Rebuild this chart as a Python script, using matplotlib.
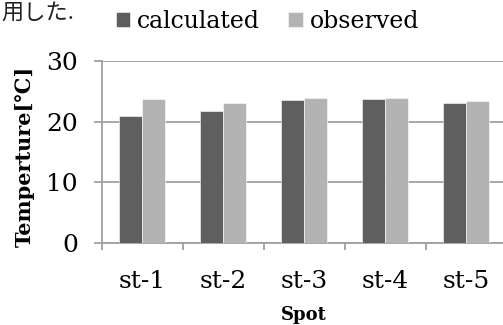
import matplotlib
matplotlib.use("Agg")
import matplotlib.pyplot as plt
import numpy as np

spots = ["st-1", "st-2", "st-3", "st-4", "st-5"]
calculated = [21.0, 21.7, 23.5, 23.7, 23.0]
observed = [23.8, 23.1, 23.9, 23.9, 23.4]
series_names = ["calculated", "observed"]
yticks = [0, 10, 20, 30]

serif = ["DejaVu Serif", "DejaVu Sans"]
plt.rcParams["font.family"] = serif
dark = "#5f5f5f"
light = "#b3b3b3"
gridc = "#a0a0a0"

fig = plt.figure(figsize=(5.03, 3.25), dpi=100)
ax = fig.add_axes([101.7 / 503, 82.3 / 325, 405 / 503, 181.7 / 325])

x = np.arange(len(spots))
w = 0.284
ax.bar(x - w / 2, calculated, w, color=dark, edgecolor="#ffffff", linewidth=0.4, label=series_names[0], zorder=3)
ax.bar(x + w / 2, observed, w, color=light, edgecolor="#ffffff", linewidth=0.4, label=series_names[1], zorder=3)

ax.set_xlim(-0.5, len(spots) - 0.5)
ax.set_ylim(0, 30)
ax.set_yticks(yticks)
ax.set_yticklabels([str(t) for t in yticks], family=serif, fontsize=18)
ax.yaxis.grid(True, color=gridc, linewidth=1.3, zorder=0)
ax.set_axisbelow(True)

ax.set_xticks(x)
ax.set_xticklabels(spots, family=serif, fontsize=18)
ax.set_xticks(np.arange(-0.5, len(spots), 1.0), minor=True)
ax.tick_params(axis="x", which="major", length=0, pad=20)
ax.tick_params(axis="x", which="minor", length=5, width=1.3, color=gridc, direction="out")
ax.tick_params(axis="y", length=6, width=1.3, color=gridc, direction="out", pad=11)

for s in ["top", "right"]:
    ax.spines[s].set_visible(False)
for s in ["left", "bottom"]:
    ax.spines[s].set_color(gridc)
    ax.spines[s].set_linewidth(1.3)

ax.set_ylabel("Temperture[℃]", family=serif, fontsize=15, fontweight="bold", va="center")
ax.yaxis.set_label_coords(-0.189, 0.474)
ax.set_xlabel("Spot", family=serif, fontsize=13, fontweight="bold", va="top")
ax.xaxis.set_label_coords(0.4995, -0.348)

leg = fig.legend(loc="center", bbox_to_anchor=(267.5 / 503, 1 - 21 / 325), ncol=2, frameon=False,
                 prop={"size": 17}, handlelength=0.6, handleheight=0.6,
                 handletextpad=0.3, columnspacing=1.2, borderpad=0, borderaxespad=0)
for t in leg.get_texts():
    t.set_family(serif)

fig.text(1 / 503, 1 - 12 / 325, "用した.", family=["Noto Sans CJK JP", "DejaVu Sans"],
         fontsize=16, va="center", ha="left", color="#222222")

fig.savefig("out.png", dpi=100)
